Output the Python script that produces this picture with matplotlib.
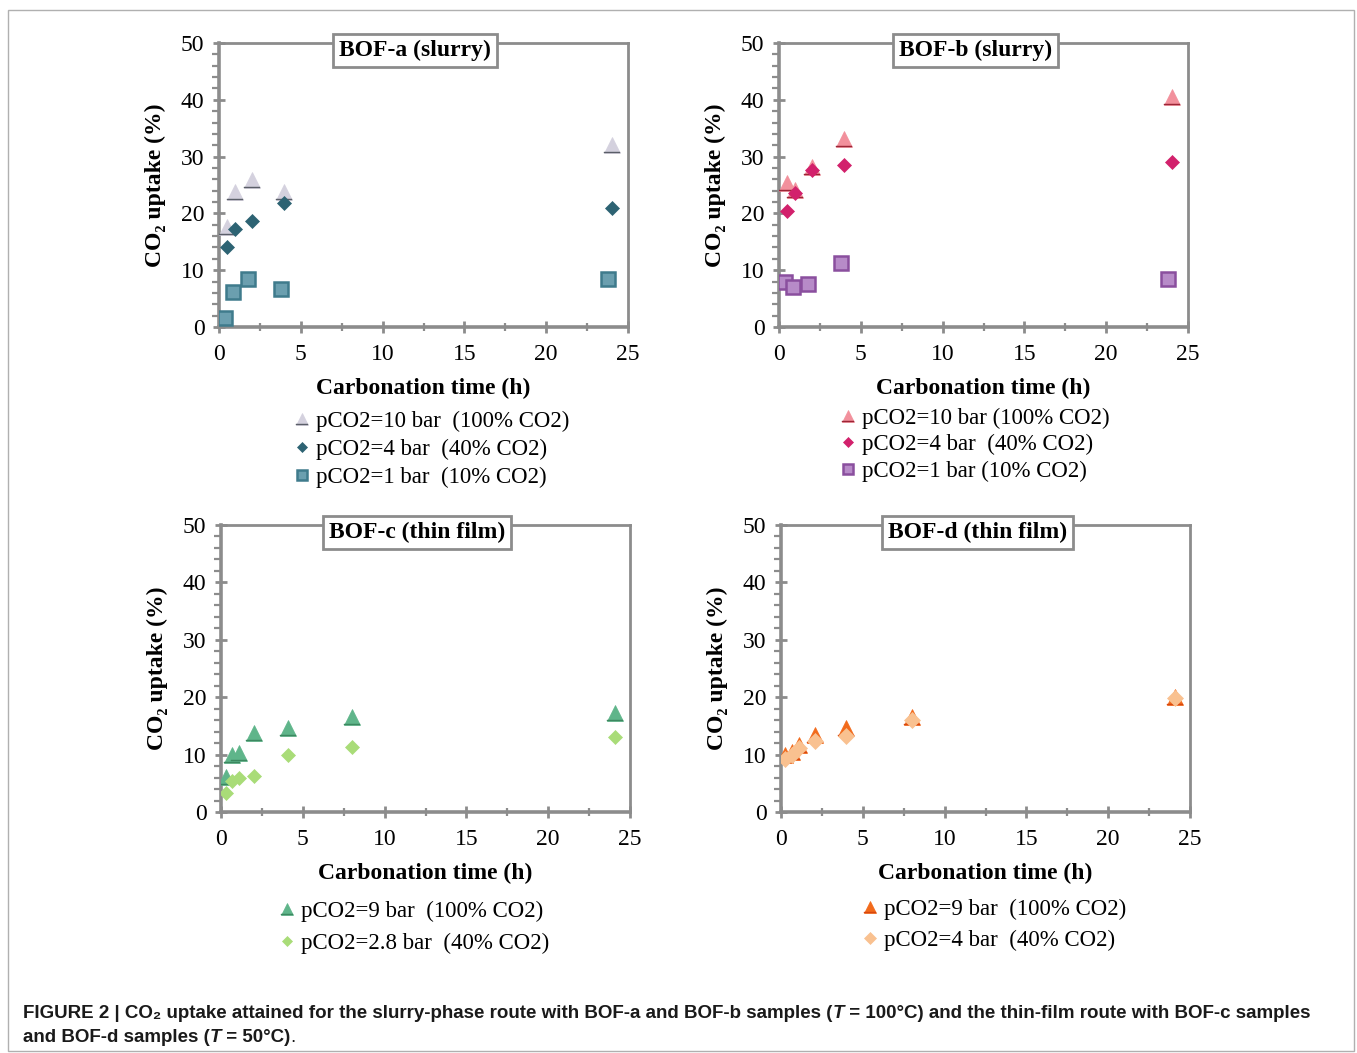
import matplotlib
matplotlib.use("Agg")
import matplotlib.pyplot as plt
import numpy as np
from matplotlib.path import Path
from matplotlib.markers import MarkerStyle
from matplotlib.ticker import MultipleLocator
from matplotlib.patches import Rectangle

# ---------------- data ----------------
# BOF-a (slurry)
a10_t = [0.5, 1.0, 2.0, 4.0, 24.0]
a10_y = [17.6, 23.8, 25.9, 23.8, 32.0]
a4_t = [0.5, 1.0, 2.0, 4.0, 24.0]
a4_y = [14.1, 17.3, 18.7, 21.8, 20.9]
a1_t = [0.35, 0.85, 1.8, 3.8, 23.75]
a1_y = [1.6, 6.2, 8.5, 6.7, 8.5]
# BOF-b (slurry)
b10_t = [0.5, 1.0, 2.0, 4.0, 24.0]
b10_y = [25.4, 24.1, 28.2, 33.1, 40.5]
b4_t = [0.5, 1.0, 2.0, 4.0, 24.0]
b4_y = [20.4, 23.6, 27.6, 28.5, 29.0]
b1_t = [0.35, 0.85, 1.8, 3.8, 23.8]
b1_y = [7.9, 7.0, 7.6, 11.3, 8.5]
# BOF-c (thin film)
c9_t = [0.3, 0.67, 1.1, 2.0, 4.1, 8.0, 24.1]
c9_y = [6.1, 9.9, 10.3, 13.8, 14.6, 16.6, 17.2]
c28_t = [0.3, 0.67, 1.1, 2.0, 4.1, 8.0, 24.1]
c28_y = [3.3, 5.4, 5.9, 6.3, 9.9, 11.3, 13.1]
# BOF-d (thin film)
d9_t = [0.25, 0.67, 1.1, 2.1, 4.0, 8.0, 24.1]
d9_y = [9.9, 10.5, 11.7, 13.4, 14.6, 16.6, 20.0]
d4_t = [0.25, 0.67, 1.1, 2.1, 4.0, 8.0, 24.1]
d4_y = [9.3, 10.0, 11.2, 12.4, 13.2, 16.0, 19.8]

titles = ["BOF-a (slurry)", "BOF-b (slurry)", "BOF-c (thin film)", "BOF-d (thin film)"]
lab_a = ["pCO2=10 bar  (100% CO2)", "pCO2=4 bar  (40% CO2)", "pCO2=1 bar  (10% CO2)"]
lab_b = ["pCO2=10 bar (100% CO2)", "pCO2=4 bar  (40% CO2)", "pCO2=1 bar (10% CO2)"]
lab_c = ["pCO2=9 bar  (100% CO2)", "pCO2=2.8 bar  (40% CO2)"]
lab_d = ["pCO2=9 bar  (100% CO2)", "pCO2=4 bar  (40% CO2)"]

# ---------------- style ----------------
W, H = 1357, 1053
fig = plt.figure(figsize=(W / 100, H / 100), dpi=100)
SERIF = ["Liberation Serif", "DejaVu Serif"]
SANS = ["Liberation Sans", "DejaVu Sans"]
GRAY = "#8c8c8c"

# base-bar marker (shadow line under the triangle)
bar_path = Path([(-0.5, -0.5), (0.5, -0.5), (0.5, -0.43), (-0.5, -0.43), (-0.5, -0.5)],
                [Path.MOVETO, Path.LINETO, Path.LINETO, Path.LINETO, Path.CLOSEPOLY])
BAR = MarkerStyle(bar_path)


def make_ax(px_left, px_top, px_w, px_h):
    ax = fig.add_axes([px_left / W, 1 - (px_top + px_h) / H, px_w / W, px_h / H])
    ax.set_xlim(0, 25)
    ax.set_ylim(0, 50)
    for s in ax.spines.values():
        s.set_color(GRAY)
        s.set_linewidth(2.0)
    ax.spines["left"].set_linewidth(2.6)
    ax.spines["bottom"].set_linewidth(2.6)
    ax.xaxis.set_major_locator(MultipleLocator(5))
    ax.xaxis.set_minor_locator(MultipleLocator(2.5))
    ax.yaxis.set_major_locator(MultipleLocator(10))
    ax.yaxis.set_minor_locator(MultipleLocator(2))
    ax.tick_params(which="major", direction="inout", length=9, width=2, color=GRAY,
                   labelsize=17, pad=6)
    ax.tick_params(axis="x", which="major", pad=8)
    ax.tick_params(which="minor", direction="out", length=5, width=1.6, color=GRAY)
    ax.tick_params(axis="x", which="minor", direction="inout", length=6)
    for lab in ax.get_xticklabels() + ax.get_yticklabels():
        lab.set_fontfamily(SERIF)
    ax.set_xlabel("Carbonation time (h)", fontsize=17, fontweight="bold", family=SERIF)
    ax.set_ylabel("CO₂ uptake (%)", fontsize=17, fontweight="bold", family=SERIF)
    ax.xaxis.set_label_coords(0.5, -0.178)
    ax.yaxis.set_label_coords(-0.13, 0.5)
    return ax


def tri(ax, t, y, fc, bc, ms=11.5):
    h1, = ax.plot(t, y, linestyle="none", marker="^", ms=ms, mfc=fc, mec=fc, mew=0.5, zorder=3)
    h2, = ax.plot(t, y, linestyle="none", marker=BAR, ms=ms, mfc=bc, mec=bc, mew=0.3, zorder=3)
    return (h1, h2)


def dia(ax, t, y, c, ms=7):
    h, = ax.plot(t, y, linestyle="none", marker="D", ms=ms, mfc=c, mec=c, mew=0.5, zorder=4)
    return h


def sq(ax, t, y, fc, ec, ms=9.5):
    h, = ax.plot(t, y, linestyle="none", marker="s", ms=ms, mfc=fc, mec=ec, mew=1.8, zorder=4)
    return h


def title_box(ax, txt):
    ax.text(0.48, 0.975, txt, transform=ax.transAxes, ha="center", va="center",
            fontsize=17, fontweight="bold", family=SERIF, zorder=6,
            bbox=dict(boxstyle="square,pad=0.25", fc="white", ec=GRAY, lw=2))


def legend(ax, handles, labels, px_x, px_y, spacing):
    lg = ax.legend(handles, labels, loc="upper left",
                   bbox_to_anchor=(px_x / W, 1 - px_y / H), bbox_transform=fig.transFigure,
                   frameon=False, prop={"family": SERIF, "size": 16.5},
                   handlelength=0.7, handletextpad=0.25, borderpad=0, borderaxespad=0,
                   labelspacing=spacing, markerscale=0.75)
    return lg


# ---------------- panels ----------------
ax1 = make_ax(219, 43, 409, 284)
h1 = tri(ax1, a10_t, a10_y, "#d4d1de", "#5a5e68")
h2 = dia(ax1, a4_t, a4_y, "#2d6373")
h3 = sq(ax1, a1_t, a1_y, "#6b9faf", "#3f7b8c")
title_box(ax1, titles[0])
legend(ax1, [h1, h2, h3], lab_a, 294, 411, 0.3)

ax2 = make_ax(779, 43, 409, 284)
g1 = tri(ax2, b10_t, b10_y, "#f2909c", "#9c2536")
g2 = dia(ax2, b4_t, b4_y, "#d2216c")
g3 = sq(ax2, b1_t, b1_y, "#b78bc8", "#8a4f9e")
title_box(ax2, titles[1])
legend(ax2, [g1, g2, g3], lab_b, 840, 408, 0.22)

ax3 = make_ax(221, 525, 409, 287)
k1 = tri(ax3, c9_t, c9_y, "#5fb58a", "#3c8860")
k2 = dia(ax3, c28_t, c28_y, "#a9dc78")
title_box(ax3, titles[2])
legend(ax3, [k1, k2], lab_c, 279, 901, 0.45)

ax4 = make_ax(781, 525, 409, 287)
m1 = tri(ax4, d9_t, d9_y, "#f26a1b", "#d8470e")
m2 = dia(ax4, d4_t, d4_y, "#f9c190", ms=8)
title_box(ax4, titles[3])
legend(ax4, [m1, m2], lab_d, 862, 899, 0.4)

# ---------------- outer frame ----------------
fig.patches.append(Rectangle((8 / W, 1 - 1051 / H), (1354 - 8) / W, (1051 - 10) / H,
                             transform=fig.transFigure, fill=False, ec="#b0b0b0", lw=1.0))

# ---------------- caption ----------------
fig.canvas.draw()
renderer = fig.canvas.get_renderer()
CAP = 13.5


def seq_text(x_px, y_px, segments, size=CAP):
    x = x_px / W
    for s, style in segments:
        t = fig.text(x, 1 - y_px / H, s, fontsize=size, fontweight="bold", family=SANS,
                     fontstyle=style, va="center", ha="left", color="#1a1a1a")
        bb = t.get_window_extent(renderer)
        x += bb.width / W


seq_text(23, 1013, [
    ("FIGURE 2 | CO₂ uptake attained for the slurry-phase route with BOF-a and BOF-b samples (", "normal"),
    ("T", "italic"),
    (" = 100°C) and the thin-film route with BOF-c samples", "normal"),
])
seq_text(23, 1038, [
    ("and BOF-d samples (", "normal"),
    ("T", "italic"),
    (" = 50°C)", "normal"),
])
t_end = fig.texts[-1]
bb = t_end.get_window_extent(renderer)
fig.text((bb.x1) / W, 1 - 1038 / H, ".", fontsize=CAP, family=SANS, va="center", ha="left",
         color="#1a1a1a")

fig.savefig("out.png", dpi=100)
